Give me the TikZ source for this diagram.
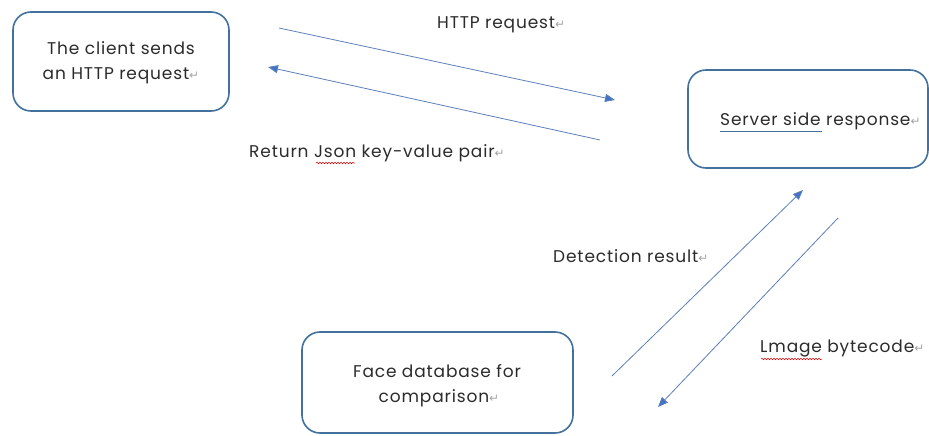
\documentclass[tikz,border=0pt]{standalone}
\usepackage{fontspec}
\setmainfont[LetterSpace=5]{Poppins}
\newfontfamily\markfont{DejaVu Sans}
\usetikzlibrary{arrows.meta,decorations.pathmorphing}
\definecolor{boxline}{HTML}{41719C}
\definecolor{flowline}{HTML}{5B7FB8}
\definecolor{headfill}{HTML}{4472C4}
\definecolor{txt}{HTML}{2B2B2B}
\newcommand{\pmark}{{\markfont\color{gray!70}\fontsize{12}{12}\selectfont ↵}}
\tikzset{
  x=1pt, y=-1pt,
  procbox/.style={draw=boxline, line width=1.6pt, rounded corners=18pt},
  boxtext/.style={font=\fontsize{17}{25}\selectfont, text=txt, align=center, inner sep=0pt},
  lbl/.style={font=\fontsize{17}{20}\selectfont, text=txt, inner sep=0pt},
  flow/.style={draw=flowline, line width=0.8pt,
    -{Triangle[length=10pt,width=8pt,fill=headfill]}},
  squiggle/.style={draw=red!85!black, line width=0.5pt,
    decorate, decoration={snake, amplitude=0.8pt, segment length=3pt}}
}
\begin{document}
\begin{tikzpicture}
\useasboundingbox (0,0) rectangle (929,436);
\clip (0,0) rectangle (929,436);

% boxes
\draw[procbox] (13,12) rectangle (229,111);
\draw[procbox] (688,70) rectangle (928,168);
\draw[procbox] (302,332) rectangle (573,433);

% box texts
\node[boxtext] (client) at (121,63) {The client sends\\an HTTP request\pmark};
\node[boxtext, anchor=west] (server) at (720,121) {Server side response\pmark};
\node[boxtext] (facedb) at (437,386) {Face database for\\\hspace*{4pt}comparison\pmark};

% connector end points
\coordinate (c1) at (279,28);
\coordinate (s1) at (615,100);
\coordinate (s2) at (600,140);
\coordinate (c2) at (268,67);
\coordinate (f1) at (612,376);
\coordinate (s3) at (803,190);
\coordinate (s4) at (838,218);
\coordinate (f2) at (658,407);

\draw[flow] (c1) -- (s1);
\draw[flow] (s2) -- (c2);
\draw[flow] (f1) -- (s3);
\draw[flow] (s4) -- (f2);

% labels
\node[lbl, anchor=west] (lreq) at (437,25) {HTTP request\pmark};
\node[lbl, anchor=west] (lret) at (249,153) {Return Json key-value pair\pmark};
\node[lbl, anchor=west] (ldet) at (553,256) {Detection result\pmark};
\node[lbl, anchor=west] (limg) at (760,349) {Lmage bytecode\pmark};

% proofing marks under words
\draw[squiggle] (316,163) -- (355,163);
\draw[squiggle] (761,359) -- (822,359);
\draw[draw=boxline, line width=0.6pt] (720,131) -- (822,131);
\end{tikzpicture}
\end{document}
